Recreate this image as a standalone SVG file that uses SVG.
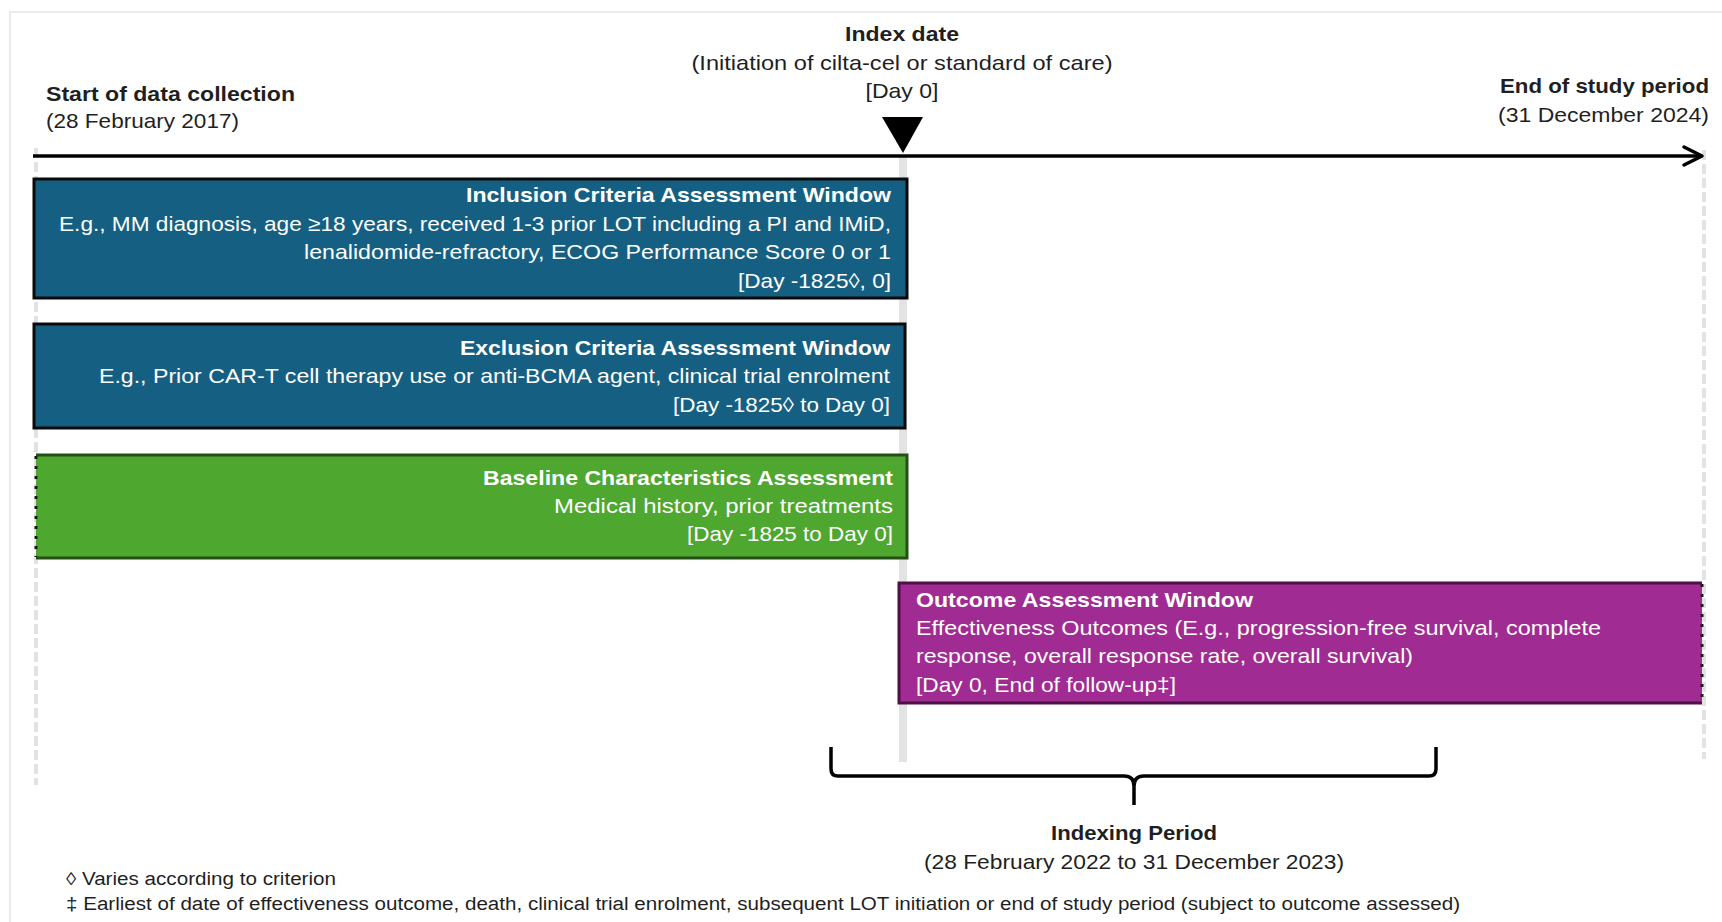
<svg xmlns="http://www.w3.org/2000/svg" width="1722" height="922" viewBox="0 0 1722 922">
<defs>
<style>
.t{font-family:"Liberation Sans",Arial,sans-serif;font-size:21px;fill:#1f1f1f}
.b{font-weight:bold}
.w{fill:#ffffff}
.fn{font-family:"Liberation Sans",Arial,sans-serif;font-size:18px;fill:#1f1f1f}
.guide{stroke:#e2e2e2;stroke-width:4;stroke-dasharray:10 4;fill:none}
.blue{fill:#156082;stroke:#0a0a0a;stroke-width:3}
.green{fill:#4ea72e;stroke:#244f16;stroke-width:3}
.purple{fill:#a02b93;stroke:#4e1046;stroke-width:3}
.dotted{stroke:#1a1a1a;stroke-width:3;stroke-dasharray:3 7;fill:none}
</style>
<marker id="arrowOpen" markerWidth="24" markerHeight="24" refX="19" refY="10" orient="auto" markerUnits="userSpaceOnUse" overflow="visible">
<path d="M1,1 L19,10 L1,19" fill="none" stroke="#000" stroke-width="3.5" stroke-linejoin="round" stroke-linecap="round"/>
</marker>
</defs>

<rect x="0" y="0" width="1722" height="922" fill="#ffffff"/>
<path d="M10,940 V12 H1740" fill="none" stroke="#ebebeb" stroke-width="2"/>

<g id="guides">
<line class="guide" x1="36" y1="148" x2="36" y2="785"/>
<line class="guide" x1="1704" y1="150" x2="1704" y2="759"/>
<rect x="899" y="155" width="8" height="607" fill="#e3e3e3"/>
</g>

<g id="connectors">
<line x1="33" y1="156" x2="1702" y2="156" stroke="#000" stroke-width="3.5" marker-end="url(#arrowOpen)"/>
<path d="M831,747 V769 Q831,776 838,776 H1124 Q1134,776 1134,786 V805 M1134,786 Q1134,776 1144,776 H1429 Q1436,776 1436,769 V747" fill="none" stroke="#000" stroke-width="3.5"/>
</g>

<g id="start-of-data">
<text class="t b" x="46" y="101" textLength="249" lengthAdjust="spacingAndGlyphs">Start of data collection</text>
<text class="t" x="46" y="128" textLength="193" lengthAdjust="spacingAndGlyphs">(28 February 2017)</text>
</g>

<g id="index-date">
<polygon points="882,117 923,117 903,153" fill="#000"/>
<text class="t b" x="902" y="41" text-anchor="middle" textLength="114" lengthAdjust="spacingAndGlyphs">Index date</text>
<text class="t" x="902" y="70" text-anchor="middle" textLength="421" lengthAdjust="spacingAndGlyphs">(Initiation of cilta-cel or standard of care)</text>
<text class="t" x="902" y="98" text-anchor="middle" textLength="73" lengthAdjust="spacingAndGlyphs">[Day 0]</text>
</g>

<g id="end-of-study">
<text class="t b" x="1709" y="93" text-anchor="end" textLength="209" lengthAdjust="spacingAndGlyphs">End of study period</text>
<text class="t" x="1709" y="122" text-anchor="end" textLength="211" lengthAdjust="spacingAndGlyphs">(31 December 2024)</text>
</g>

<g id="inclusion">
<rect class="blue" x="34" y="179" width="873" height="119"/>
<text class="t b w" x="891" y="202" text-anchor="end" textLength="425" lengthAdjust="spacingAndGlyphs">Inclusion Criteria Assessment Window</text>
<text class="t w" x="891" y="231" text-anchor="end" textLength="832" lengthAdjust="spacingAndGlyphs">E.g., MM diagnosis, age ≥18 years, received 1-3 prior LOT including a PI and IMiD,</text>
<text class="t w" x="891" y="259" text-anchor="end" textLength="587" lengthAdjust="spacingAndGlyphs">lenalidomide-refractory, ECOG Performance Score 0 or 1</text>
<text class="t w" x="891" y="288" text-anchor="end" textLength="153" lengthAdjust="spacingAndGlyphs">[Day -1825◊, 0]</text>
</g>

<g id="exclusion">
<rect class="blue" x="34" y="324" width="871" height="104"/>
<text class="t b w" x="890" y="355" text-anchor="end" textLength="430" lengthAdjust="spacingAndGlyphs">Exclusion Criteria Assessment Window</text>
<text class="t w" x="890" y="383" text-anchor="end" textLength="791" lengthAdjust="spacingAndGlyphs">E.g., Prior CAR-T cell therapy use or anti-BCMA agent, clinical trial enrolment</text>
<text class="t w" x="890" y="412" text-anchor="end" textLength="217" lengthAdjust="spacingAndGlyphs">[Day -1825◊ to Day 0]</text>
</g>

<g id="baseline">
<rect x="36" y="455" width="871" height="103" fill="#4ea72e"/>
<path d="M36,455 H907 V558 H36" fill="none" stroke="#244f16" stroke-width="3"/>
<line class="dotted" x1="36" y1="456" x2="36" y2="557"/>
<text class="t b w" x="893" y="485" text-anchor="end" textLength="410" lengthAdjust="spacingAndGlyphs">Baseline Characteristics Assessment</text>
<text class="t w" x="893" y="513" text-anchor="end" textLength="339" lengthAdjust="spacingAndGlyphs">Medical history, prior treatments</text>
<text class="t w" x="893" y="541" text-anchor="end" textLength="206" lengthAdjust="spacingAndGlyphs">[Day -1825 to Day 0]</text>
</g>

<g id="outcome">
<rect x="899" y="583" width="803" height="120" fill="#a02b93"/>
<path d="M1702,583 H899 V703 H1702" fill="none" stroke="#4e1046" stroke-width="3"/>
<line class="dotted" x1="1702" y1="584" x2="1702" y2="702"/>
<text class="t b w" x="916" y="607" textLength="337" lengthAdjust="spacingAndGlyphs">Outcome Assessment Window</text>
<text class="t w" x="916" y="635" textLength="685" lengthAdjust="spacingAndGlyphs">Effectiveness Outcomes (E.g., progression-free survival, complete</text>
<text class="t w" x="916" y="663" textLength="497" lengthAdjust="spacingAndGlyphs">response, overall response rate, overall survival)</text>
<text class="t w" x="916" y="692" textLength="260" lengthAdjust="spacingAndGlyphs">[Day 0, End of follow-up‡]</text>
</g>

<g id="indexing-period">
<text class="t b" x="1134" y="840" text-anchor="middle" textLength="166" lengthAdjust="spacingAndGlyphs">Indexing Period</text>
<text class="t" x="1134" y="869" text-anchor="middle" textLength="420" lengthAdjust="spacingAndGlyphs">(28 February 2022 to 31 December 2023)</text>
</g>

<g id="footnotes">
<text class="fn" x="66" y="885" textLength="270" lengthAdjust="spacingAndGlyphs">◊ Varies according to criterion</text>
<text class="fn" x="66" y="910" textLength="1394" lengthAdjust="spacingAndGlyphs">‡ Earliest of date of effectiveness outcome, death, clinical trial enrolment, subsequent LOT initiation or end of study period  (subject to outcome assessed)</text>
</g>
</svg>
